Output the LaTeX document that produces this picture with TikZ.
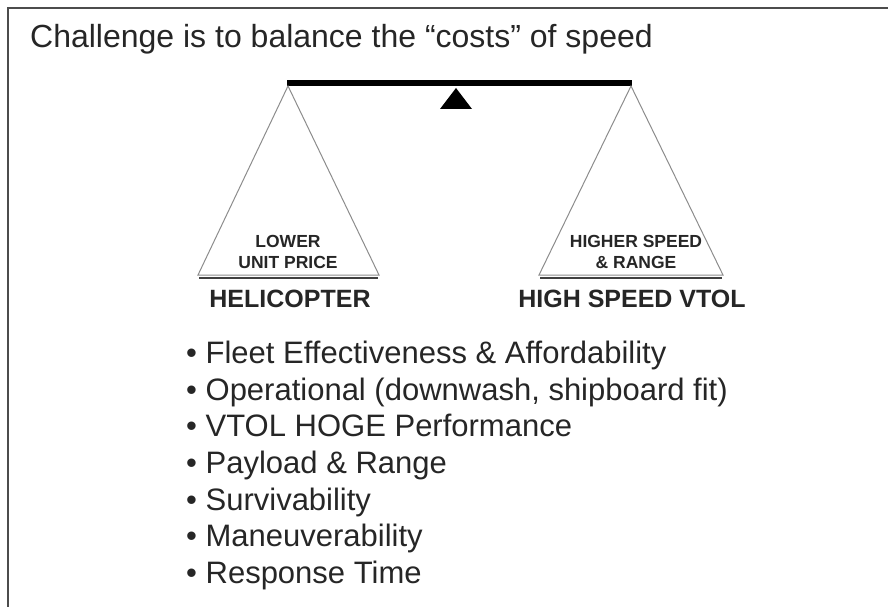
\documentclass[tikz,border=0pt]{standalone}
\usepackage{fontspec}
\setmainfont{Liberation Sans}
\begin{document}
\begin{tikzpicture}[x=1pt,y=-1pt,
  txt/.style={inner sep=0pt,anchor=base west,text=black!85},
  ctr/.style={inner sep=0pt,anchor=base,text=black!85},
  pan/.style={draw=black!45,line width=1pt},
  panbase/.style={draw=black!75,line width=1.2pt},
  frame/.style={draw=black!70,line width=1.6pt}]
\useasboundingbox (0,0) rectangle (888,607);
% frame (top and left edges)
\coordinate (fbl) at (8,607);
\coordinate (ftl) at (8,8);
\coordinate (ftr) at (888,8);
\draw[frame] (fbl) -- (ftl) -- (ftr);
% title
\node[txt,font=\fontsize{32}{38}\selectfont] (title) at (30,48) {Challenge is to balance the “costs” of speed};
% beam
\coordinate (bl) at (287,83);
\coordinate (br) at (632,83);
\draw[line width=6pt,black] (bl) -- (br);
% fulcrum
\coordinate (fa) at (456,88);
\coordinate (fl) at (440,109);
\coordinate (fr) at (472,109);
\fill[black] (fa) -- (fl) -- (fr) -- cycle;
% left pan
\coordinate (la) at (288,86);
\coordinate (lb1) at (198,275);
\coordinate (lb2) at (379,275);
\draw[pan] (la) -- (lb1) -- (lb2) -- cycle;
\coordinate (lu1) at (199,278);
\coordinate (lu2) at (378,278);
\draw[panbase] (lu1) -- (lu2);
% right pan
\coordinate (ra) at (631,86);
\coordinate (rb1) at (539,275);
\coordinate (rb2) at (723,275);
\draw[pan] (ra) -- (rb1) -- (rb2) -- cycle;
\coordinate (ru1) at (540,278);
\coordinate (ru2) at (722,278);
\draw[panbase] (ru1) -- (ru2);
% pan labels
\node[ctr,font=\bfseries\fontsize{17.5}{21}\selectfont] (l1) at (288,247) {LOWER};
\node[ctr,font=\bfseries\fontsize{17.5}{21}\selectfont] (l2) at (288,268) {UNIT PRICE};
\node[ctr,font=\bfseries\fontsize{17.5}{21}\selectfont] (r1) at (636,247) {HIGHER SPEED};
\node[ctr,font=\bfseries\fontsize{17.5}{21}\selectfont] (r2) at (636,268) {\& RANGE};
\node[ctr,font=\bfseries\fontsize{25}{30}\selectfont] (heli) at (290,307) {HELICOPTER};
\node[ctr,font=\bfseries\fontsize{25}{30}\selectfont] (vtol) at (632,307) {HIGH SPEED VTOL};
% bullets
\begin{scope}[every node/.style={txt,font=\fontsize{31}{37}\selectfont}]
\node (b1) at (186,363) {• Fleet Effectiveness \& Affordability};
\node (b2) at (186,400) {• Operational (downwash, shipboard fit)};
\node (b3) at (186,436.5) {• VTOL HOGE Performance};
\node (b4) at (186,473) {• Payload \& Range};
\node (b5) at (186,510) {• Survivability};
\node (b6) at (186,546.5) {• Maneuverability};
\node (b7) at (186,583) {• Response Time};
\end{scope}
\end{tikzpicture}
\end{document}
